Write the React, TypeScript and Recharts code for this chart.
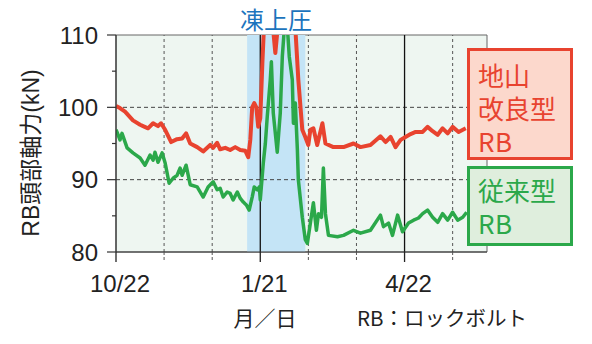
import React from 'react';
import { LineChart, Line, XAxis, YAxis, ReferenceArea, ReferenceLine } from 'recharts';

const FONT = '"Liberation Sans", Arial, "Noto Sans CJK JP", sans-serif';
const JP_FONT = '"Noto Sans CJK JP", "Liberation Sans", sans-serif';
// same CJK font with a tighter line box, so the stacked legend lines do not overlap
const BOX_FONT = '"JPTight", "Noto Sans CJK JP", sans-serif';
const fontFace = `@font-face {
  font-family: "JPTight";
  src: local("Noto Sans CJK JP Regular"), local("NotoSansCJKjp-Regular"), local("Noto Sans CJK JP");
  ascent-override: 90%;
  descent-override: 15%;
  line-gap-override: 0%;
}`;

// days since 10/22
const X_MAX = 234;
const xTicks = [0, 30.33, 60.67, 91, 121.33, 151.67, 182, 212.33];
const xTickLabels = ['10/22', '', '', '1/21', '', '', '4/22', ''];
const yTicks = [80, 85, 90, 95, 100, 105, 110];
const frostStart = 82.7;
const frostEnd = 119.4;

// 地山改良型RB
const improvedDays = [
  0, 2.5, 5.7, 10.7, 15.2, 17.1, 20.2, 23.4, 26.5, 28.4, 31.0, 34.8, 38.5, 41.7, 44.2, 46.8,
  51.2, 55.0, 59.4, 61.3, 63.8, 65.7, 68.9, 72.0, 75.2, 78.4, 81.5, 83.4, 84.7, 85.9, 87.2,
  88.5, 89.7, 91.0, 92.3, 93.5, 96.1, 98.6, 100.5, 102.4, 106.8, 111.2, 113.1, 115.0, 117.5,
  119.4, 121.3, 122.6, 124.5, 126.9, 130.2, 132.1, 137.1, 143.5, 149.8, 154.2, 160.5, 166.8,
  170.0, 173.2, 176.3, 179.5, 182.6, 185.8, 189.0, 193.4, 196.5, 199.7, 202.9, 206.0, 209.2,
  212.3, 216.1, 220.6,
];
const improvedValues = [
  100.2, 99.9, 99.4, 98.2, 97.6, 97.4, 97.1, 97.8, 97.4, 97.8, 96.9, 95.2, 95.6, 95.7, 96.4, 95.0,
  94.5, 93.9, 94.8, 94.4, 95.1, 94.2, 94.4, 94.1, 94.5, 94.1, 94.0, 93.1, 95.5, 100.0, 100.6,
  100.0, 97.3, 98.5, 106, 112, 115, 112, 107.5, 112, 115, 114, 111, 103.8, 96.9,
  95.9, 94.8, 96.9, 97.1, 94.8, 97.8, 95.0, 94.5, 94.5, 95.0, 94.5, 94.8, 96.0,
  95.2, 95.9, 94.5, 95.5, 95.9, 96.3, 96.6, 96.6, 97.3, 96.7, 96.2, 97.1, 96.4,
  97.3, 96.6, 97.1,
];

// 従来型RB
const conventionalDays = [
  0, 0.6, 2.5, 3.8, 7.0, 10.7, 15.2, 18.3, 21.5, 23.4, 24.6, 26.5, 29.1, 31.0, 33.5, 36.0,
  38.5, 40.4, 41.7, 44.2, 46.8, 51.2, 55.0, 58.1, 61.3, 63.8, 65.7, 67.6, 70.1, 72.0, 73.9,
  76.5, 78.4, 80.3, 82.2, 84.0, 85.9, 87.2, 89.1, 90.4, 91.0, 92.9, 94.2, 95.4, 97.3, 98.0,
  99.2, 101.7, 103.6, 104.9, 106.2, 108.1, 109.3, 111.2, 111.9, 113.1, 114.4, 115.0, 117.5,
  119.4, 120.7, 122.6, 124.5, 126.4, 127.7, 129.6, 130.8, 132.1, 134.0, 139.7, 143.5, 149.8,
  154.2, 160.5, 166.8, 168.7, 171.9, 174.4, 177.6, 180.7, 184.5, 187.7, 190.8, 193.4, 196.5,
  199.7, 202.9, 206.0, 209.2, 212.3, 215.5, 218.7, 221.2,
];
const conventionalValues = [
  96.9, 96.6, 95.5, 96.4, 94.4, 93.7, 93.0, 92.0, 93.4, 92.7, 93.8, 92.4, 93.7, 92.3, 89.5, 90.2,
  90.6, 91.6, 90.6, 92.0, 89.3, 89.0, 87.6, 89.0, 89.7, 88.6, 88.8, 87.6, 88.3, 88.1, 87.2,
  88.3, 87.4, 86.9, 86.5, 85.8, 87.6, 89.0, 88.6, 89.0, 87.2, 92.3, 95.0, 98.7, 103.8, 106.3,
  99.2, 93.8, 99.2, 107, 111, 111, 107, 103.8, 97.8, 100.6, 94.1, 90.0, 84.8,
  81.7, 81.2, 84.0, 86.8, 83.0, 85.3, 84.8, 91.6, 85.3, 82.3, 82.1, 82.3, 83.0,
  82.6, 83.0, 85.1, 83.5, 84.0, 82.3, 85.1, 82.8, 84.0, 84.4, 84.7, 85.3, 85.8,
  84.8, 84.1, 85.3, 84.4, 85.5, 84.4, 84.8, 85.5,
];

const improvedData = improvedDays.map((d, i) => ({ d, v: improvedValues[i] }));
const conventionalData = conventionalDays.map((d, i) => ({ d, v: conventionalValues[i] }));

const RED = '#e8432f';
const GREEN = '#2ba84a';

function YTick({ x, y, payload }: any) {
  const major = payload.value % 10 === 0;
  const edge = x + 18;
  return (
    <g>
      <line x1={edge - (major ? 9 : 4)} x2={edge} y1={y} y2={y} stroke="#333" strokeWidth={1.2} />
      {major && (
        <text x={x} y={y} dy={8.5} textAnchor="end" fontSize={24} fill="#222" fontFamily={FONT}>
          {payload.value}
        </text>
      )}
    </g>
  );
}

function XTick({ x, y, payload }: any) {
  const idx = xTicks.indexOf(payload.value);
  const label = xTickLabels[idx];
  const axisY = y - 18;
  return (
    <g>
      <line
        x1={x}
        x2={x}
        y1={axisY}
        y2={axisY + 10}
        stroke={label ? '#222' : '#555'}
        strokeWidth={label ? 1.3 : 1}
        strokeDasharray={label ? undefined : '3 2'}
      />
      {label && (
        <text x={x + 4} y={y} dy={22} textAnchor="middle" fontSize={24} fill="#222" fontFamily={FONT}>
          {label}
        </text>
      )}
    </g>
  );
}

const boxLine = { display: 'block', height: 33, lineHeight: '33px' } as const;

export default function App() {
  return (
    <div style={{ position: 'absolute', left: 0, top: 0, width: 592, height: 344, background: '#fff' }}>
      <style>{fontFace}</style>
      <LineChart width={592} height={344} margin={{ top: 35, right: 105, bottom: 52, left: 56 }}>
        <XAxis
          type="number"
          dataKey="d"
          domain={[0, X_MAX]}
          ticks={xTicks}
          interval={0}
          allowDataOverflow
          tick={<XTick />}
          tickLine={false}
          tickSize={10}
          tickMargin={8}
          height={40}
          axisLine={{ stroke: '#333', strokeWidth: 1.2 }}
        />
        <YAxis
          type="number"
          domain={[80, 110]}
          ticks={yTicks}
          interval={0}
          allowDataOverflow
          tick={<YTick />}
          tickLine={false}
          tickSize={9}
          tickMargin={9}
          width={60}
          axisLine={{ stroke: '#333', strokeWidth: 1.2 }}
        />
        <ReferenceArea x1={0} x2={X_MAX} y1={80} y2={110} fill="#eef6f1" fillOpacity={1} stroke="#666" strokeWidth={1} />
        <ReferenceArea x1={frostStart} x2={frostEnd} y1={80} y2={110} fill="#c4e4f6" fillOpacity={1} />
        {[90, 100].map((v) => (
          <ReferenceLine key={`h${v}`} y={v} stroke="#444" strokeDasharray="4 3" strokeWidth={1} />
        ))}
        {xTicks.map((t, i) =>
          xTickLabels[i] ? (
            i > 0 && <ReferenceLine key={`v${t}`} x={t} stroke="#111" strokeWidth={1.3} />
          ) : (
            <ReferenceLine key={`v${t}`} x={t} stroke="#555" strokeDasharray="3 3" strokeWidth={1} />
          )
        )}
        <Line
          data={conventionalData}
          dataKey="v"
          type="linear"
          stroke={GREEN}
          strokeWidth={3.5}
          strokeLinejoin="round"
          dot={false}
          isAnimationActive={false}
        />
        <Line
          data={improvedData}
          dataKey="v"
          type="linear"
          stroke={RED}
          strokeWidth={4}
          strokeLinejoin="round"
          dot={false}
          isAnimationActive={false}
        />
      </LineChart>

      <div
        style={{
          position: 'absolute', left: 29, top: 153, transform: 'translate(-50%, -50%) rotate(-90deg)',
          whiteSpace: 'nowrap', fontSize: 23, fontFamily: FONT, color: '#222',
        }}
      >
        RB頭部軸力(kN)
      </div>
      <div
        style={{
          position: 'absolute', left: 276, top: 19, transform: 'translate(-50%, -50%)',
          whiteSpace: 'nowrap', fontSize: 24, fontFamily: JP_FONT, color: '#1c74bd', lineHeight: 1,
        }}
      >
        凍上圧
      </div>

      <div
        style={{
          position: 'absolute', left: 467, top: 48, width: 106, height: 112, boxSizing: 'border-box',
          border: `3px solid ${RED}`, background: '#fcd8cc', color: RED, fontFamily: BOX_FONT,
          fontSize: 26, padding: '9px 0 0 8px', whiteSpace: 'nowrap',
        }}
      >
        <span style={boxLine}>地山</span>
        <span style={boxLine}>改良型</span>
        <span style={boxLine}>RB</span>
      </div>
      <div
        style={{
          position: 'absolute', left: 467, top: 166, width: 106, height: 80, boxSizing: 'border-box',
          border: `3px solid ${GREEN}`, background: '#dfeedd', color: GREEN, fontFamily: BOX_FONT,
          fontSize: 26, padding: '6px 0 0 8px', whiteSpace: 'nowrap',
        }}
      >
        <span style={boxLine}>従来型</span>
        <span style={boxLine}>RB</span>
      </div>

      <div
        style={{
          position: 'absolute', left: 265, top: 317, transform: 'translate(-50%, -50%)',
          whiteSpace: 'nowrap', fontSize: 21, fontFamily: JP_FONT, color: '#222', lineHeight: 1,
        }}
      >
        月／日
      </div>
      <div
        style={{
          position: 'absolute', left: 357, top: 317, transform: 'translateY(-50%)',
          whiteSpace: 'nowrap', fontSize: 20.5, fontFamily: JP_FONT, color: '#222', lineHeight: 1,
        }}
      >
        RB：ロックボルト
      </div>
    </div>
  );
}
